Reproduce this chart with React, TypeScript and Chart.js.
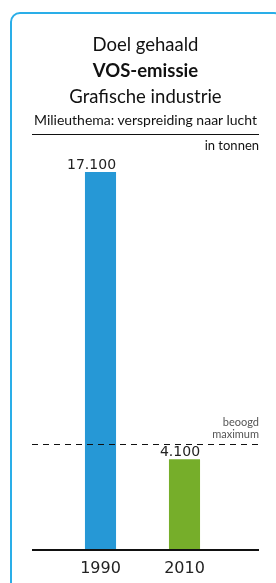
import React, { useEffect, useRef } from "react";
import { Chart, registerables } from "chart.js";

Chart.register(...registerables);

const categories = ["1990", "2010"];
const values = [17100, 4100];
const valueLabels = ["17.100", "4.100"];
const barColors = ["#2698d6", "#76ae2a"];
const targetValue = 4800;
const targetLabel = ["beoogd", "maximum"];
const titleLines = ["Doel gehaald", "VOS-emissie", "Grafische industrie"];
const themeLabel = "Milieuthema: verspreiding naar lucht";
const unitLabel = "in tonnen";
const yMax = 18000;

const LINE_LEFT = 32;
const LINE_RIGHT = 259;

const overlayPlugin = {
  id: "overlay",
  afterDatasetsDraw(chart: any) {
    const ctx = chart.ctx;
    const y = chart.scales.y;
    const meta = chart.getDatasetMeta(0);
    ctx.save();
    // target dashed line
    const ty = Math.round(y.getPixelForValue(targetValue)) + 0.5;
    ctx.strokeStyle = "#111";
    ctx.lineWidth = 1;
    ctx.setLineDash([6, 5]);
    ctx.beginPath();
    ctx.moveTo(LINE_LEFT, ty);
    ctx.lineTo(LINE_RIGHT, ty);
    ctx.stroke();
    ctx.setLineDash([]);
    ctx.fillStyle = "#555";
    ctx.font = "11px Lato";
    ctx.textAlign = "right";
    ctx.textBaseline = "alphabetic";
    ctx.fillText(targetLabel[0], LINE_RIGHT, ty - 19);
    ctx.fillText(targetLabel[1], LINE_RIGHT, ty - 7);
    // baseline
    const by = y.getPixelForValue(0);
    ctx.strokeStyle = "#111";
    ctx.lineWidth = 1.8;
    ctx.beginPath();
    ctx.moveTo(LINE_LEFT, by);
    ctx.lineTo(LINE_RIGHT, by);
    ctx.stroke();
    // value labels, right aligned to bar right edge
    ctx.fillStyle = "#222";
    ctx.font = "14px 'DejaVu Sans'";
    ctx.textAlign = "right";
    meta.data.forEach((bar: any, i: number) => {
      const right = bar.x + bar.width / 2;
      ctx.fillText(valueLabels[i], right, bar.y - 3);
    });
    ctx.restore();
  },
};

export default function App() {
  const ref = useRef<HTMLCanvasElement | null>(null);
  useEffect(() => {
    if (!ref.current) return;
    const chart = new Chart(ref.current, {
      type: "bar",
      data: {
        labels: categories,
        datasets: [
          {
            data: values,
            backgroundColor: barColors,
            barPercentage: 0.37,
            categoryPercentage: 1,
          },
        ],
      },
      options: {
        animation: false,
        responsive: false,
        maintainAspectRatio: false,
        layout: { padding: { top: 152, bottom: 0, left: 58.5, right: 49.5 } },
        plugins: { legend: { display: false }, tooltip: { enabled: false } },
        scales: {
          x: {
            grid: { display: false, drawTicks: false },
            border: { display: false },
            afterFit: (scale: any) => {
              scale.height = 33;
            },
            ticks: {
              color: "#222",
              font: { family: "'DejaVu Sans'", size: 16 },
              padding: 9,
            },
          },
          y: {
            display: false,
            min: 0,
            max: yMax,
          },
        },
      },
      plugins: [overlayPlugin],
    });
    return () => chart.destroy();
  }, []);

  return (
    <div style={{ position: "fixed", left: 0, top: 0, width: 276, height: 583, overflow: "hidden", background: "#fff" }}>
      <div
        style={{
          position: "absolute",
          left: 10,
          top: 12,
          width: 270,
          height: 580,
          border: "2px solid #2aaee8",
          borderRadius: 10,
        }}
      />
      <canvas ref={ref} width={276} height={583} style={{ position: "absolute", left: 0, top: 0 }} />
      <div
        style={{
          position: "absolute",
          left: LINE_LEFT,
          width: LINE_RIGHT - LINE_LEFT,
          top: 31,
          textAlign: "center",
          fontFamily: "Lato, sans-serif",
          color: "#111",
        }}
      >
        <div style={{ fontSize: 18.5, lineHeight: "26px" }}>{titleLines[0]}</div>
        <div style={{ fontSize: 18.5, lineHeight: "26px", fontWeight: 700 }}>{titleLines[1]}</div>
        <div style={{ fontSize: 18.5, lineHeight: "26px" }}>{titleLines[2]}</div>
        <div
          style={{
            fontSize: 14,
            lineHeight: "21px",
            borderBottom: "1px solid #111",
            paddingBottom: 4,
            whiteSpace: "nowrap",
          }}
        >
          {themeLabel}
        </div>
        <div style={{ fontSize: 13, lineHeight: "20px", textAlign: "right" }}>{unitLabel}</div>
      </div>
    </div>
  );
}
